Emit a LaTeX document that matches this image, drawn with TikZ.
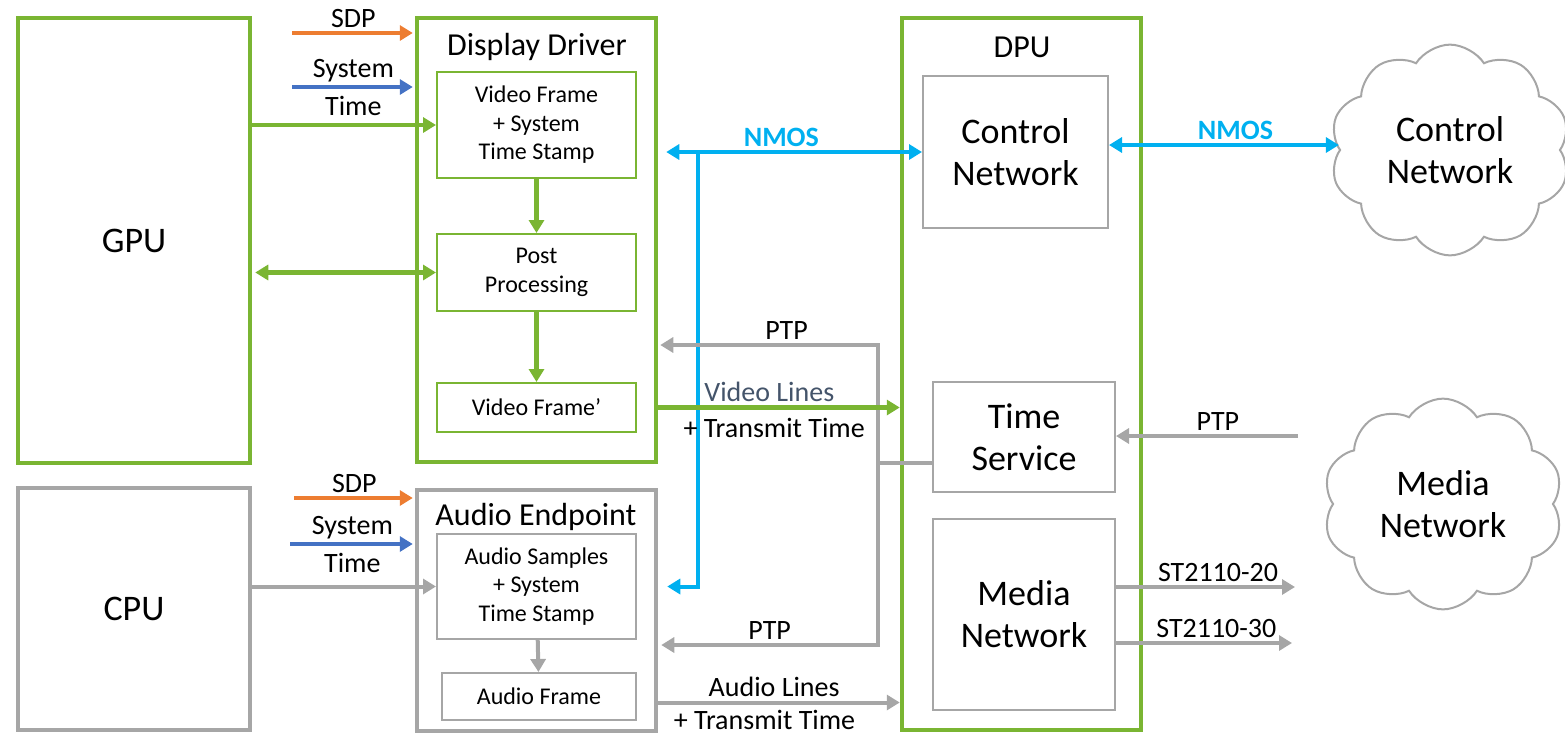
\documentclass[tikz,border=0pt]{standalone}
\usepackage{fontspec}
\setmainfont{Carlito}
\usepackage{tikz}
\usetikzlibrary{arrows.meta,positioning,shapes.symbols,calc}

\definecolor{nvgreen}{HTML}{7AB532}
\definecolor{boxgray}{HTML}{A6A6A6}
\definecolor{sdporange}{HTML}{ED7D31}
\definecolor{timeblue}{HTML}{4472C4}
\definecolor{nmoscyan}{HTML}{00B0F0}
\definecolor{slate}{HTML}{44546A}

\newcommand{\bigfs}{\fontsize{36}{42}\selectfont}
\newcommand{\titlefs}{\fontsize{32}{38}\selectfont}
\newcommand{\midfs}{\fontsize{28}{34}\selectfont}
\newcommand{\smallfs}{\fontsize{24}{28.5}\selectfont}

\begin{document}
\begin{tikzpicture}[x=1pt,y=-1pt,
    >={Triangle[length=13pt,width=15pt]},
    unit/.style={draw=nvgreen,line width=4.5pt,inner sep=0pt,font=\bigfs},
    grayunit/.style={draw=boxgray,line width=4.5pt,inner sep=0pt,font=\bigfs},
    stage/.style={draw=nvgreen,line width=2pt,align=center,font=\smallfs,minimum width=199},
    graystage/.style={draw=boxgray,line width=2pt,align=center,font=\smallfs},
    block/.style={draw=boxgray,line width=2pt,align=center,font=\bigfs},
    title/.style={font=\titlefs,inner sep=0pt},
    netcloud/.style={cloud,cloud puffs=10,cloud puff arc=115,draw=boxgray,line width=2pt,
      align=center,font=\bigfs,minimum width=240,minimum height=210},
    garrow/.style={->,draw=nvgreen,line width=4.5pt},
    grarrow/.style={->,draw=boxgray,line width=4pt},
    oarrow/.style={->,draw=sdporange,line width=4pt},
    barrow/.style={->,draw=timeblue,line width=4pt},
    carrow/.style={->,draw=nmoscyan,line width=4pt},
    every node/.append style={font=\midfs}]
  \useasboundingbox (0,0) rectangle (1565,737);

  % host side
  \node[unit,minimum width=232,minimum height=445] (gpu) at (134,240.5) {GPU};
  \node[grayunit,minimum width=232,minimum height=242] (cpu) at (134,609) {CPU};

  % display driver
  \node[unit,minimum width=239,minimum height=444] (drv) at (536.5,240) {};
  \node[title] (drvtitle) at (537,47) {Display Driver};
  \node[stage,minimum height=106] (vfts) at (536.5,125) {Video Frame\\+ System\\Time Stamp};
  \node[stage,minimum height=77] (post) at (536.5,272.5) {Post\\Processing};
  \node[stage,minimum height=49] (vfp) at (536.5,407.5) {Video Frame’};

  % audio endpoint
  \node[grayunit,minimum width=239,minimum height=241] (aep) at (536.5,610.5) {};
  \node[title] (aeptitle) at (536,517) {Audio Endpoint};
  \node[graystage,minimum width=199,minimum height=105] (asts) at (536.5,586.5) {Audio Samples\\+ System\\Time Stamp};
  \node[graystage,minimum width=194,minimum height=47] (afr) at (539,696.5) {Audio Frame};

  % DPU
  \node[unit,minimum width=239,minimum height=712] (dpu) at (1021.5,374) {};
  \node[title] (dputitle) at (1022,47) {DPU};
  \node[block,minimum width=185,minimum height=152] (ctl) at (1015.5,152) {Control\\Network};
  \node[block,minimum width=182,minimum height=110] (tsv) at (1024,437) {Time\\Service};
  \node[block,minimum width=182,minimum height=191] (mnw) at (1024,614.5) {Media\\Network};

  % networks
  \node[netcloud] (ctlcloud) at (1450,150) {Control\\Network};
  \node[netcloud] (medcloud) at (1443,504) {Media\\Network};

  % inputs to the display driver
  \coordinate (sdpv) at (292,33);
  \coordinate (timev) at (292,87);
  \draw[oarrow,shorten >=2pt] (sdpv) -- (sdpv -| drv.west) node[midway,above]{SDP};
  \draw[barrow,shorten >=2pt] (timev) -- (timev -| drv.west) node[midway,above]{System} node[midway,below=4pt]{Time};
  \draw[garrow] (gpu.east |- vfts.west) -- (vfts.west);
  \draw[garrow,<->,shorten <=3pt] (gpu.east |- post.west) -- (post.west);
  \draw[garrow] (vfts) -- (post);
  \draw[garrow] (post) -- (vfp);

  % inputs to the audio endpoint
  \coordinate (sdpa) at (294,498);
  \coordinate (timea) at (290,544);
  \draw[oarrow,shorten >=2pt] (sdpa) -- (sdpa -| aep.west) node[midway,above]{SDP};
  \draw[barrow,shorten >=2pt] (timea) -- (timea -| aep.west) node[midway,above]{System} node[midway,below=4pt]{Time};
  \draw[grarrow] (cpu.east |- asts.west) -- (asts.west);
  \draw[grarrow] (asts) -- (afr);

  % NMOS
  \coordinate (nmosj) at (698,152);
  \draw[carrow,<->] ([xshift=8pt]drv.east |- ctl.west) -- (ctl.west)
    node[pos=0.45,above,text=nmoscyan,font=\midfs\bfseries]{NMOS};
  \draw[carrow] (nmosj) |- ([xshift=9pt]aep.east |- asts.east);
  \draw[carrow,<->] ([yshift=7pt]ctl.east) -- ([yshift=7pt]ctl.east -| ctlcloud.west)
    node[pos=0.55,above,text=nmoscyan,font=\midfs\bfseries]{NMOS};

  % PTP
  \coordinate (ptptop) at (878,345);
  \coordinate (ptpbot) at (878,645);
  \coordinate (ptpj) at (878,463);
  \draw[grarrow,<->] ([xshift=2pt]drv.east |- ptptop) -- (ptptop) node[pos=0.58,above]{PTP}
    -- (ptpbot) -- ([xshift=3pt]aep.east |- ptpbot) node[midway,above]{PTP};
  \draw[draw=boxgray,line width=4pt] (tsv.west |- ptpj) -- (ptpj);
  \coordinate (ptpsrc) at (1298,436);
  \draw[grarrow] (ptpsrc) -- (tsv.east |- ptpsrc) node[pos=0.44,above]{PTP};

  % media out of the endpoints
  \draw[garrow] (drv.east |- vfp.east) -- (dpu.west |- vfp.east)
    node[pos=0.46,above,text=slate]{Video Lines} node[pos=0.48,below=5pt]{+ Transmit Time};
  \draw[grarrow] ([yshift=-6pt]aep.east |- afr.east) -- ([yshift=-6pt]dpu.west |- afr.east)
    node[pos=0.48,above]{Audio Lines} node[pos=0.44,below=2pt]{+ Transmit Time};

  % streams to the media network
  \coordinate (st20) at (1295,587);
  \coordinate (st30) at (1292,643);
  \draw[grarrow] (mnw.east |- st20) -- (st20) node[pos=0.57,above]{ST2110-20};
  \draw[grarrow] (mnw.east |- st30) -- (st30) node[pos=0.57,above]{ST2110-30};
\end{tikzpicture}
\end{document}
